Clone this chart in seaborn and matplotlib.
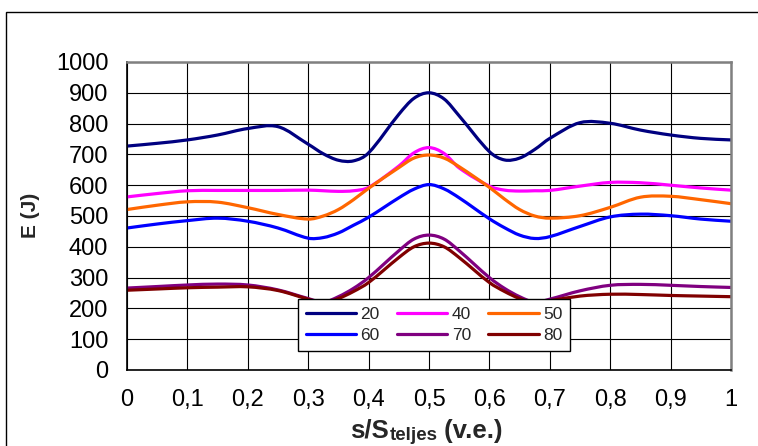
import matplotlib
matplotlib.use("Agg")
import matplotlib.pyplot as plt
from matplotlib.patches import Rectangle, PathPatch
from matplotlib.path import Path
from matplotlib.lines import Line2D
import seaborn as sns
import pandas as pd
import numpy as np

# ---- data ----
s_pos = [0, 0.05, 0.1, 0.15, 0.2, 0.25, 0.3, 0.325, 0.35, 0.375, 0.4, 0.45, 0.475,
         0.5, 0.525, 0.55, 0.6, 0.625, 0.65, 0.675, 0.7, 0.75, 0.8, 0.85, 0.9, 0.95, 1.0]

e_20 = [727, 736, 747, 763, 784, 790, 733, 702, 681, 679, 705, 830, 882,
        900, 880, 825, 709, 682, 688, 716, 752, 803, 801, 779, 763, 752, 747]
e_40 = [562, 573, 582, 583, 583, 583, 584, 582, 580, 582, 593, 662, 705,
        722, 703, 656, 597, 584, 581, 582, 583, 597, 609, 608, 600, 591, 584]
e_50 = [521, 535, 546, 545, 527, 505, 490, 500, 521, 553, 590, 657, 688,
        698, 688, 660, 593, 555, 521, 500, 493, 501, 528, 561, 564, 553, 540]
e_60 = [461, 474, 485, 493, 483, 461, 428, 430, 445, 470, 496, 559, 587,
        602, 588, 559, 491, 462, 438, 427, 433, 466, 497, 506, 501, 490, 483]
e_70 = [266, 271, 276, 279, 276, 260, 232, 220, 238, 265, 300, 387, 425,
        438, 425, 387, 300, 265, 238, 220, 230, 257, 275, 278, 275, 271, 268]
e_80 = [259, 263, 267, 269, 270, 258, 230, 218, 232, 255, 284, 365, 400,
        412, 400, 365, 284, 255, 232, 218, 225, 240, 246, 245, 242, 240, 238]

series_names = ["20", "40", "50", "60", "70", "80"]
series_colors = ["#000080", "#FF00FF", "#FF6600", "#0000FF", "#800080", "#800000"]

x_ticks = [0, 0.1, 0.2, 0.3, 0.4, 0.5, 0.6, 0.7, 0.8, 0.9, 1.0]
x_ticklabels = ["0", "0,1", "0,2", "0,3", "0,4", "0,5", "0,6", "0,7", "0,8", "0,9", "1"]
y_ticks = [0, 100, 200, 300, 400, 500, 600, 700, 800, 900, 1000]

# ---- build long table ----
all_series = [e_20, e_40, e_50, e_60, e_70, e_80]
rows = []
for name, vals in zip(series_names, all_series):
    for xv, yv in zip(s_pos, vals):
        rows.append({"s": xv, "E": yv, "series": name})
df = pd.DataFrame(rows)

sns.set_theme(style="white")
plt.rcParams["font.family"] = ["Liberation Sans", "DejaVu Sans"]

W, H = 758, 446
fig = plt.figure(figsize=(W / 100, H / 100), dpi=100)
fig.patch.set_facecolor("white")
ax = fig.add_axes([127 / W, (H - 370) / H, 604 / W, 308 / H])
ax.set_facecolor("white")

palette = dict(zip(series_names, series_colors))
sns.lineplot(data=df, x="s", y="E", hue="series", hue_order=series_names,
             palette=palette, linewidth=2.3, sort=False, estimator=None,
             legend=False, ax=ax)
ax.set_xlabel("")
ax.set_ylabel("")


def smooth_path(xs, ys):
    """Smoothed line (cubic Bezier through every data point, like a spreadsheet's
    'smoothed line' option)."""
    xs = np.asarray(xs, float)
    ys = np.asarray(ys, float)
    n = len(xs)
    m = np.empty(n)
    m[0] = (ys[1] - ys[0]) / (xs[1] - xs[0])
    m[-1] = (ys[-1] - ys[-2]) / (xs[-1] - xs[-2])
    m[1:-1] = (ys[2:] - ys[:-2]) / (xs[2:] - xs[:-2])
    verts = [(xs[0], ys[0])]
    codes = [Path.MOVETO]
    for i in range(n - 1):
        h = xs[i + 1] - xs[i]
        verts += [(xs[i] + h / 3, ys[i] + m[i] * h / 3),
                  (xs[i + 1] - h / 3, ys[i + 1] - m[i + 1] * h / 3),
                  (xs[i + 1], ys[i + 1])]
        codes += [Path.CURVE4] * 3
    return Path(verts, codes)


# replace the straight segments drawn by seaborn with smoothed curves
for line in list(ax.get_lines()):
    xd, yd = line.get_xdata(), line.get_ydata()
    patch = PathPatch(smooth_path(xd, yd), facecolor="none",
                      edgecolor=line.get_color(), linewidth=2.3,
                      capstyle="round", joinstyle="round", zorder=2)
    ax.add_patch(patch)
    line.remove()

ax.set_xlim(0, 1)
ax.set_ylim(0, 1000)
ax.set_xticks(x_ticks)
ax.set_xticklabels(x_ticklabels)
ax.set_yticks(y_ticks)
ax.tick_params(axis="both", labelsize=17, colors="black", direction="out",
               length=4.5, width=1, pad=9)
ax.tick_params(axis="x", pad=9)

ax.grid(True, color="black", linewidth=0.8)
ax.set_axisbelow(True)

for side in ["left", "bottom"]:
    ax.spines[side].set_color("black")
    ax.spines[side].set_linewidth(1.2)
for side in ["top", "right"]:
    ax.spines[side].set_color("#808080")
    ax.spines[side].set_linewidth(1.8)

# axis titles
fig.text(30 / W, 1 - 215 / H, "E (J)", rotation=90, ha="center", va="center",
         fontsize=15, fontweight="bold")
t1 = fig.text(350 / W, 8 / H, "s/S", ha="left", va="baseline",
              fontsize=18.5, fontweight="bold")
t2 = ax.annotate("teljes", xy=(1, 0), xycoords=t1, xytext=(0.5, -0.5),
                 textcoords="offset points", ha="left", va="bottom",
                 fontsize=13.5, fontweight="bold", annotation_clip=False)
t3 = ax.annotate(" (v.e.)", xy=(1, 0), xycoords=(t2, t1), xytext=(0, 0),
                 textcoords="offset points", ha="left", va="bottom",
                 fontsize=18.5, fontweight="bold", annotation_clip=False)

# legend (row-major order 20 40 50 / 60 70 80)
proxy = {n: Line2D([], [], color=c, linewidth=2.3) for n, c in zip(series_names, series_colors)}
order = ["20", "60", "40", "70", "50", "80"]
leg = ax.legend([proxy[n] for n in order], order, loc="upper left",
                bbox_to_anchor=(0.283, 0.2305), ncol=3, fontsize=12.5,
                frameon=True, fancybox=False, framealpha=1, edgecolor="black",
                handlelength=2.9, handletextpad=0.25, columnspacing=1.0,
                borderpad=0.45, labelspacing=0.35, borderaxespad=0)
leg.get_frame().set_linewidth(1.0)

# chart-area frame
fig.patches.append(Rectangle((6 / W, -0.05), 1.0, (H - 12) / H + 0.05,
                             transform=fig.transFigure, fill=False,
                             edgecolor="black", linewidth=1.0, zorder=0))

fig.savefig("out.png", dpi=100)
